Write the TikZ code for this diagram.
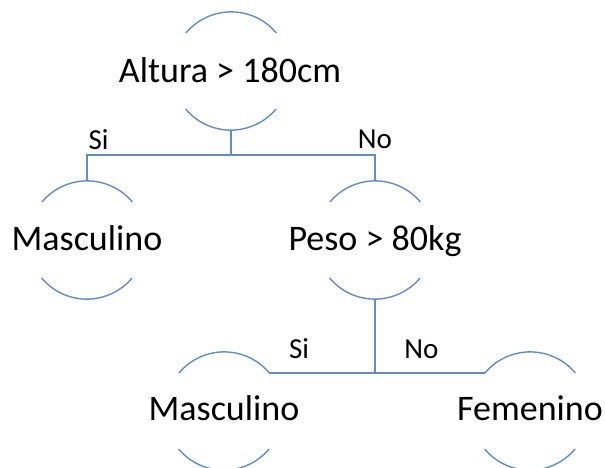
\documentclass[tikz,border=0pt]{standalone}
\usepackage{fontspec}
\setmainfont{Carlito}
\definecolor{linec}{RGB}{96,142,196}
\begin{document}
\begin{tikzpicture}[x=1pt,y=-1pt,
  circ/.style={circle,minimum size=118pt,inner sep=0pt,draw=none},
  txt/.style={anchor=base,inner sep=0pt,font=\fontsize{36}{40}\selectfont},
  lbl/.style={anchor=base,inner sep=0pt,font=\fontsize{29}{33}\selectfont},
  ln/.style={draw=linec,line width=1.4pt}]
\useasboundingbox (0,0) rectangle (605,467);
% circle positions
\node[circ] (a) at (231,71) {};
\node[circ] (m1) at (87,240) {};
\node[circ] (p) at (375,240) {};
\node[circ] (m2) at (224,411) {};
\node[circ] (f) at (530,411) {};
% arcs (top and bottom parts of each circle)
\foreach \n in {a,m1,p,m2,f}{
  \draw[ln] (\n.40) arc[start angle=40,end angle=140,radius=59pt];
  \draw[ln] (\n.220) arc[start angle=220,end angle=320,radius=59pt];
}
% texts
\node[txt] (ta) at (230,82) {Altura > 180cm};
\node[txt] (tm1) at (87,250) {Masculino};
\node[txt] (tp) at (375,250) {Peso > 80kg};
\node[txt] (tm2) at (224,420) {Masculino};
\node[txt] (tf) at (530,420) {Femenino};
% connectors
\coordinate (j1) at (231,155);
\draw[ln] (a.south) -- (j1);
\draw[ln] (m1.north) |- (j1) -| (p.north);
\coordinate (j2) at (p.south |- m2.40);
\draw[ln] (p.south) -- (j2);
\draw[ln] (m2.40) -- (f.140);
% labels
\node[lbl] (s1) at (98.5,149) {Si};
\node[lbl] (n1) at (375,148) {No};
\node[lbl] (s2) at (299,358) {Si};
\node[lbl] (n2) at (421.5,358) {No};
\end{tikzpicture}
\end{document}
